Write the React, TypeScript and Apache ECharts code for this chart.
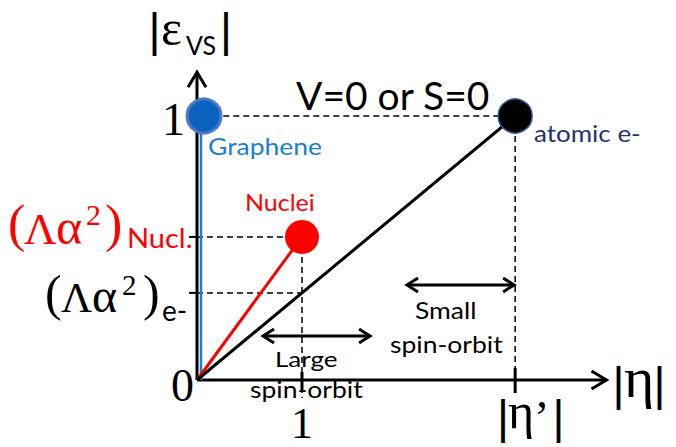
import React, { useEffect, useRef } from "react";
import * as echarts from "echarts";

// ---- diagram values (data units) ----
const etaPrime = 3.03; // |eta'| position on the |eta| axis
const nucleiY = 0.542; // (Λα²)_Nucl.
const electronY = 0.33; // (Λα²)_e-
const axisXEnd = 3.9;
const axisYEnd = 1.166;
const grapheneLineX = 0.038;

const axesSegments = [
  [[0, 0], [axisXEnd, 0]],
  [[0, 0], [0, axisYEnd]],
];
const grapheneLine = [[grapheneLineX, 0], [grapheneLineX, 1]];
const nucleiLine = [[0, 0], [1, nucleiY]];
const electronLine = [[0, 0], [etaPrime, 1]];
const dashedSegments = [
  [[0.06, 1], [etaPrime, 1]],
  [[etaPrime, 1], [etaPrime, 0]],
  [[0, nucleiY], [1, nucleiY]],
  [[1, nucleiY], [1, -0.068]],
  [[0, electronY], [1, electronY]],
];
const pointNames = ["Graphene", "Nuclei", "atomic e-"];
const pointX = [0.067, 1, etaPrime];
const pointY = [1, nucleiY, 1];
const xTicks = [1, etaPrime];
const yTicks = [1, nucleiY, electronY];
const axisArrowHeads = [[axisXEnd, 0, 0], [0, axisYEnd, 90]];
const doubleArrows = [
  [[0.629, 0.167], [1.648, 0.167]],
  [[2.0, 0.36], [3.02, 0.36]],
];

// ---- layout ----
const W = 676;
const H = 447;
const ORIGIN_X = 197;
const ORIGIN_Y = 380;
const PX_PER_X = 105;
const PX_PER_Y = 264;

const SERIF = "'Liberation Serif'";
const SANS = "'Liberation Sans'";
const CAL = "Lato";
const K: Record<string, number> = { [SERIF]: 0.3375, [SANS]: 0.3465, [CAL]: 0.387 };

function txt(
  text: string,
  x: number,
  baseline: number,
  family: string,
  size: number,
  color: string,
  sy = 1,
  align = "left"
) {
  return {
    type: "text",
    silent: true,
    z: 100,
    x,
    y: baseline,
    scaleY: sy,
    style: {
      text,
      x: 0,
      y: -K[family] * size,
      font: `${size}px ${family}`,
      fill: color,
      align,
      textAlign: align,
      verticalAlign: "middle",
      textVerticalAlign: "middle",
    },
  };
}

const RED = "#ff0000";
const BLUE_TXT = "#1a7fd2";
const NAVY = "#1f3468";
const SY = 0.87;

export default function App() {
  const ref = useRef<HTMLDivElement>(null);
  useEffect(() => {
    if (!ref.current) return;
    const chart = echarts.init(ref.current, null, { renderer: "svg" });

    const lineSeries = (data: number[][], color: string, width: number, dashed = false, z = 2) => ({
      type: "line",
      data,
      symbol: "none",
      silent: true,
      z,
      lineStyle: { color, width, type: dashed ? [6, 4] : "solid", opacity: 1 },
    });

    const arrowRender = (L: number, w: number) => (params: any, api: any) => {
      const p = api.coord([api.value(0), api.value(1)]);
      const a = (api.value(2) * Math.PI) / 180;
      const dx = Math.cos(a);
      const dy = -Math.sin(a);
      const bx = p[0] - dx * L;
      const by = p[1] - dy * L;
      const nx = -dy;
      const ny = dx;
      return {
        type: "polyline",
        shape: { points: [[bx + nx * w, by + ny * w], [p[0], p[1]], [bx - nx * w, by - ny * w]] },
        style: { stroke: "#000", lineWidth: 3, fill: null, lineJoin: "miter" },
      };
    };

    const dblHeads: number[][] = [];
    doubleArrows.forEach((seg) => {
      dblHeads.push([seg[0][0], seg[0][1], 180]);
      dblHeads.push([seg[1][0], seg[1][1], 0]);
    });

    const tickData = [
      ...xTicks.map((v, i) => [v, 0, 0, i]),
      ...yTicks.map((v) => [0, v, 1, 0]),
    ];

    const series: any[] = [];
    axesSegments.forEach((s) => series.push(lineSeries(s, "#000", 3, false, 3)));
    series.push(lineSeries(grapheneLine, "#1a7fd2", 2.5, false, 3));
    series.push(lineSeries(nucleiLine, RED, 3, false, 3));
    series.push(lineSeries(electronLine, "#000", 3, false, 3));
    dashedSegments.forEach((s) => series.push(lineSeries(s, "#000", 1.5, true, 2)));
    doubleArrows.forEach((s) => series.push(lineSeries(s, "#000", 3, false, 3)));
    series.push({
      type: "custom",
      silent: true,
      z: 4,
      data: axisArrowHeads,
      renderItem: arrowRender(15, 9),
    });
    series.push({
      type: "custom",
      silent: true,
      z: 4,
      data: dblHeads,
      renderItem: arrowRender(11, 7),
    });
    series.push({
      type: "custom",
      silent: true,
      z: 4,
      data: tickData,
      renderItem: (params: any, api: any) => {
        const p = api.coord([api.value(0), api.value(1)]);
        if (api.value(2) === 0) {
          const up = api.value(3) === 0 ? 8 : 12;
          const down = api.value(3) === 0 ? 10 : 13;
          return {
            type: "line",
            shape: { x1: p[0], y1: p[1] - up, x2: p[0], y2: p[1] + down },
            style: { stroke: "#000", lineWidth: 3 },
          };
        }
        return {
          type: "line",
          shape: { x1: p[0] - 8, y1: p[1], x2: p[0], y2: p[1] },
          style: { stroke: "#000", lineWidth: 2 },
        };
      },
    });
    series.push({
      type: "scatter",
      silent: true,
      z: 10,
      symbolSize: 34,
      data: pointNames.map((n, i) => ({
        name: n,
        value: [pointX[i], pointY[i]],
        itemStyle:
          i === 0
            ? { color: "#0b63bf", borderColor: "#4a78cc", borderWidth: 3, opacity: 1 }
            : i === 1
            ? { color: RED, borderWidth: 0, opacity: 1 }
            : { color: "#000", borderColor: "#2f5597", borderWidth: 1.5, opacity: 1 },
      })),
    });

    const graphic: any[] = [
      // y-axis title |ε_VS|
      txt("|", 148.5, 46, SANS, 46, "#000"),
      txt("ε", 161, 45, SERIF, 50, "#000"),
      txt("VS", 186, 55, CAL, 25, "#000", 1.1),
      txt("|", 220, 46, SANS, 46, "#000"),
      // axis numbers
      txt("1", 162, 135, SERIF, 46, "#000"),
      txt("0", 171, 401, SERIF, 46, "#000"),
      txt("1", 302, 438, SERIF, 44, "#000", 1, "center"),
      // |η'|
      txt("|", 497, 433, SANS, 46, "#000"),
      txt("η", 508, 428, SERIF, 50, "#000"),
      txt("’", 534, 433, SERIF, 46, "#000"),
      txt("|", 552.5, 433, SANS, 46, "#000"),
      // |η|
      txt("|", 612.5, 400, SANS, 46, "#000"),
      txt("η", 624, 397, SERIF, 58, "#000"),
      txt("|", 653.5, 400, SANS, 46, "#000"),
      // (Λα²)_Nucl.
      txt("(", 8, 241, SERIF, 52, RED),
      txt("Λ", 24, 244, SERIF, 45, RED),
      txt("α", 56, 244, SERIF, 50, RED),
      txt("2", 86, 225, SERIF, 30, RED),
      txt(")", 105, 241, SERIF, 52, RED),
      txt("Nucl.", 127, 248, CAL, 29, RED, 0.96),
      // (Λα²)_e-
      txt("(", 45, 310, SERIF, 50, "#000"),
      txt("Λ", 61, 312, SERIF, 43, "#000"),
      txt("α", 92, 312, SERIF, 48, "#000"),
      txt("2", 122, 295, SERIF, 29, "#000"),
      txt(")", 143, 310, SERIF, 50, "#000"),
      txt("e-", 162, 321, CAL, 28, "#000"),
      // annotations
      txt("V=0 or S=0", 296, 110, CAL, 39, "#000", 0.97),
      txt("Graphene", 208, 155, CAL, 26.5, BLUE_TXT, 0.9),
      txt("Nuclei", 245, 211, CAL, 25, RED, 0.9),
      txt("atomic e-", 534, 142, CAL, 26, NAVY, 0.9),
      txt("Large", 275, 367, CAL, 26, "#000", 0.84),
      txt("spin-orbit", 250, 398, CAL, 26.5, "#000", SY),
      txt("Small", 415, 319, CAL, 26.5, "#000", SY),
      txt("spin-orbit", 390, 353, CAL, 26.5, "#000", SY),
    ];

    chart.setOption({
      animation: false,
      backgroundColor: "#fff",
      grid: { left: 0, right: 0, top: 0, bottom: 0 },
      xAxis: {
        type: "value",
        min: -ORIGIN_X / PX_PER_X,
        max: (W - ORIGIN_X) / PX_PER_X,
        show: false,
      },
      yAxis: {
        type: "value",
        min: -(H - ORIGIN_Y) / PX_PER_Y,
        max: ORIGIN_Y / PX_PER_Y,
        show: false,
      },
      series,
      graphic,
    });
    return () => chart.dispose();
  }, []);
  return (
    <div
      ref={ref}
      style={{ position: "fixed", left: 0, top: 0, width: W, height: H, background: "#fff" }}
    />
  );
}
